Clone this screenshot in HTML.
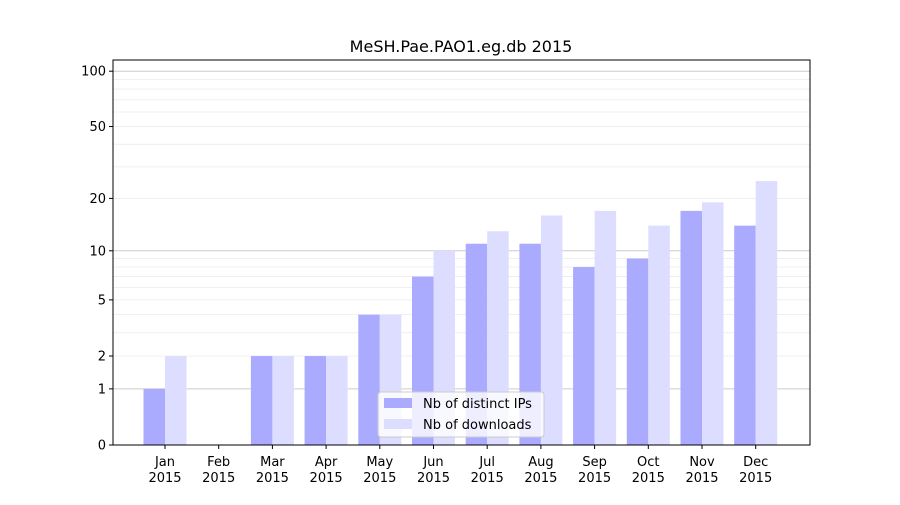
<!DOCTYPE html>
<html><head><meta charset="utf-8"><style>
body{margin:0;background:#fff;font-family:"Liberation Sans","DejaVu Sans",sans-serif}
svg text{font-family:"DejaVu Sans","Liberation Sans",sans-serif}
</style></head><body>
<svg id="c" width="900" height="500"></svg>
<script>
const categories=["Jan","Feb","Mar","Apr","May","Jun","Jul","Aug","Sep","Oct","Nov","Dec"];
const ipsValues=[1,0,2,2,4,7,11,11,8,9,17,14];
const downloadValues=[2,0,2,2,4,10,13,16,17,14,19,25];
const tickValues=[0,1,2,5,10,20,50,100];
const tickLabels=["0","1","2","5","10","20","50","100"];
const minorValues=[3,4,6,7,8,9,30,40,60,70,80,90];
const ns="http://www.w3.org/2000/svg",svg=document.getElementById('c');
const L=113,R=810,T=60,B=445;
function y(v){return B-186.5*Math.log10(1+v);}
function xc(i){return 165+i*53.7;}
function mk(t,a,p){const e=document.createElementNS(ns,t);for(const k in a)e.setAttribute(k,a[k]);(p||svg).appendChild(e);return e;}
for(const v of minorValues){const l=mk('line',{x1:L,x2:R,y1:y(v),y2:y(v),stroke:'#ebebeb','stroke-width':0.8});
}
for(const v of [1,2,5,20,50]){}
for(const v of [1,10,100]){const l=mk('line',{x1:L,x2:R,y1:y(v),y2:y(v),stroke:'#cccccc','stroke-width':1});
}
for(const v of [2,5,20,50]){const l=mk('line',{x1:L,x2:R,y1:y(v),y2:y(v),stroke:'#ebebeb','stroke-width':0.8});
}
categories.forEach((c,i)=>{
 const b1=mk('rect',{x:xc(i)-21.5,y:y(ipsValues[i]),width:21.5,height:B-y(ipsValues[i]),fill:'#aaaaff'});
 
 const b2=mk('rect',{x:xc(i),y:y(downloadValues[i]),width:21.5,height:B-y(downloadValues[i]),fill:'#ddddff'});
 
 mk('line',{x1:xc(i),x2:xc(i),y1:B,y2:B+4,stroke:'#000'});
 const t=mk('text',{x:xc(i),y:B+21,'text-anchor':'middle','font-size':13});t.textContent=c;
 
 const t2=mk('text',{x:xc(i),y:B+37,'text-anchor':'middle','font-size':13});t2.textContent='2015';
 
});
tickValues.forEach((v,i)=>{
 mk('line',{x1:L-4,x2:L,y1:y(v),y2:y(v),stroke:'#000'});
 const t=mk('text',{x:L-7,y:y(v)+4.5,'text-anchor':'end','font-size':13});t.textContent=tickLabels[i];
 
});
const f=mk('rect',{x:L,y:T,width:R-L,height:B-T,fill:'none',stroke:'#000','stroke-width':1});

const ti=mk('text',{x:461,y:52,'text-anchor':'middle','font-size':16});ti.textContent='MeSH.Pae.PAO1.eg.db 2015';

const g=mk('g',{});
mk('rect',{x:378,y:392,width:166,height:45,fill:'#fff','fill-opacity':0.8,stroke:'#cccccc',rx:3},g);
mk('rect',{x:384,y:398,width:28,height:10,fill:'#aaaaff'},g);
mk('rect',{x:384,y:419,width:28,height:10,fill:'#ddddff'},g);
const l1=mk('text',{x:423,y:408,'font-size':13},g);l1.textContent='Nb of distinct IPs';

const l2=mk('text',{x:423,y:429,'font-size':13},g);l2.textContent='Nb of downloads';

</script>
</body></html>
